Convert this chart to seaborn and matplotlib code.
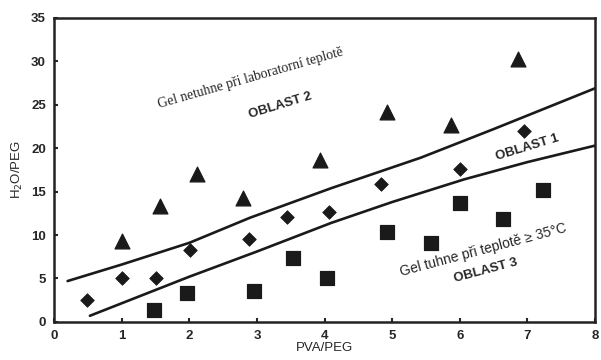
import numpy as np
import pandas as pd
import matplotlib
matplotlib.use("Agg")
import matplotlib.pyplot as plt
import seaborn as sns

# Oblast 2 - trojúhelníky
tri_x = [1.0, 1.56, 2.12, 2.8, 3.94, 4.92, 5.87, 6.86]
tri_y = [9.3, 13.3, 17.0, 14.3, 18.7, 24.2, 22.7, 30.3]

# Oblast 1 - kosočtverce
dia_x = [0.49, 1.0, 1.5, 2.01, 2.88, 3.45, 4.06, 4.83, 6.0, 6.95]
dia_y = [2.5, 5.1, 5.1, 8.3, 9.5, 12.1, 12.7, 15.9, 17.6, 22.0]

# Oblast 3 - čtverce
sq_x = [1.48, 1.97, 2.96, 3.54, 4.03, 4.93, 5.57, 6.01, 6.64, 7.23]
sq_y = [1.4, 3.3, 3.6, 7.4, 5.0, 10.4, 9.1, 13.7, 11.9, 15.2]

# hranice oblastí (odečtené body)
up_x = [0.2, 1.0, 2.0, 2.9, 4.1, 5.42, 6.5, 8.0]
up_y = [4.7, 6.6, 9.1, 12.0, 15.4, 18.9, 22.2, 26.9]
lo_x = [0.53, 2.0, 3.0, 4.1, 5.0, 6.06, 7.0, 8.0]
lo_y = [0.7, 5.2, 8.1, 11.4, 13.8, 16.4, 18.4, 20.3]

sns.set_style("ticks")
plt.rcParams['font.family'] = ['Liberation Sans', 'DejaVu Sans']

fig = plt.figure(figsize=(6.01, 3.6), dpi=100)
ax = fig.add_axes([0.09, 0.106, 0.9, 0.844])

col = '#1a1a1a'
sns.scatterplot(x=tri_x, y=tri_y, marker='^', s=115, color=col, edgecolor=col, ax=ax)
sns.scatterplot(x=dia_x, y=dia_y, marker='D', s=48, color=col, edgecolor=col, ax=ax)
sns.scatterplot(x=sq_x, y=sq_y, marker='s', s=115, color=col, edgecolor=col, ax=ax)

sns.lineplot(x=up_x, y=up_y, color=col, linewidth=1.9, ax=ax)
sns.lineplot(x=lo_x, y=lo_y, color=col, linewidth=1.9, ax=ax)

ax.set_xlim(0, 8)
ax.set_ylim(0, 35)
ax.set_xticks(range(0, 9))
ax.set_yticks(range(0, 36, 5))
for s in ax.spines.values():
    s.set_visible(True)
    s.set_linewidth(1.8)
    s.set_color('#222222')
ax.tick_params(direction='in', length=3, width=1.5, labelsize=9.5, pad=6)
for lab in ax.get_xticklabels() + ax.get_yticklabels():
    lab.set_fontweight('bold')

ax.set_xlabel('PVA/PEG', fontsize=9.5, labelpad=0)
ax.set_ylabel('H$_2$O/PEG', fontsize=9.5, labelpad=4)

ax.text(2.9, 28.1, 'Gel netuhne při laboratorní teplotě', rotation=16,
        ha='center', va='center', fontsize=10, family=['Liberation Serif', 'DejaVu Serif'])
ax.text(3.35, 24.9, 'OBLAST 2', rotation=17, ha='center', va='center',
        fontsize=9.5, fontweight='bold')
ax.text(7.0, 20.1, 'OBLAST 1', rotation=17, ha='center', va='center',
        fontsize=9.5, fontweight='bold')
ax.text(6.35, 8.3, 'Gel tuhne při teplotě ≥ 35°C', rotation=15,
        ha='center', va='center', fontsize=10)
ax.text(6.39, 5.9, 'OBLAST 3', rotation=15, ha='center', va='center',
        fontsize=9.5, fontweight='bold')

fig.savefig('out.png', dpi=100)
